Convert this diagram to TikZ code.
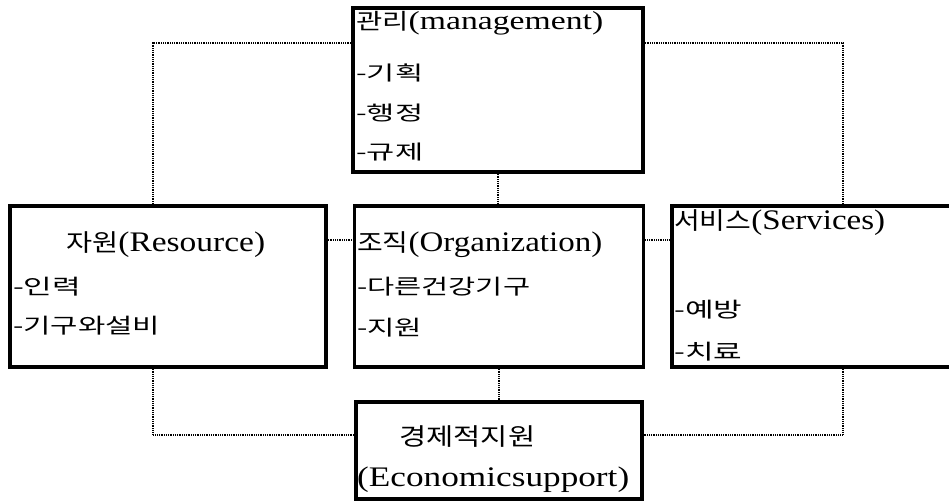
\documentclass[tikz,border=0pt]{standalone}
\usepackage{fontspec}
\setmainfont{Liberation Serif}[Scale=1.18]
\newfontfamily\kr{Noto Sans CJK KR}
\usepackage{graphicx}
\usetikzlibrary{calc}
\newcommand{\fitw}[3]{\resizebox{#1pt}{\height}{\fontsize{#2}{#2}\selectfont #3}}
\begin{document}
\begin{tikzpicture}[x=1pt,y=-1pt,
  box/.style={draw=black, line width=3.5pt, inner sep=0pt},
  conn/.style={draw=black, line width=1.8pt, dash pattern=on 1pt off 0.8pt},
  lbl/.style={anchor=west, inner sep=0pt, text=black}]
\useasboundingbox (0,0) rectangle (949,502);
\clip (0,0) rectangle (949,502);

% boxes
\node[box, minimum width=290pt, minimum height=164pt] (mgmt) at (498,90) {};
\node[box, minimum width=316pt, minimum height=161pt] (res) at (168,286.5) {};
\node[box, minimum width=289pt, minimum height=161pt] (org) at (499,286.5) {};
\node[box, minimum width=300pt, minimum height=161pt] (svc) at (822,286.5) {};
\node[box, minimum width=286pt, minimum height=97pt] (eco) at (499,450.5) {};

% connector corners
\coordinate (tl) at (153,43);
\coordinate (tr) at (843,43);
\coordinate (bl) at (153,435);
\coordinate (br) at (843,435);
\coordinate (ml) at (340,240);

\draw[conn] (mgmt.west |- tl) -- (tl) -- (res.north -| tl);
\draw[conn] (mgmt.east |- tr) -- (tr) -- (svc.north -| tr);
\draw[conn] (res.south -| bl) -- (bl) -- (eco.west |- bl);
\draw[conn] (svc.south -| br) -- (br) -- (eco.east |- br);
\draw[conn] (res.east |- ml) -- (org.west |- ml);
\draw[conn] (org.east |- ml) -- (svc.west |- ml);
\draw[conn] (mgmt.south) -- (mgmt.south |- org.north);
\draw[conn] (org.south -| eco.north) -- (eco.north);

% texts: management
\node[lbl] (t1) at (356,23) {\fitw{247}{22}{{\kr 관리}(management)}};
\node[lbl] (t1a) at (356,73) {\fitw{67}{20}{\kr -기획}};
\node[lbl] (t1b) at (356,113) {\fitw{67}{20}{\kr -행정}};
\node[lbl] (t1c) at (356,152) {\fitw{67}{20}{\kr -규제}};

% resource
\node[lbl] (t2) at (66,245) {\fitw{199}{24}{{\kr 자원}(Resource)}};
\node[lbl] (t2a) at (13,287) {\fitw{68}{21}{\kr -인력}};
\node[lbl] (t2b) at (13,326) {\fitw{147}{21}{\kr -기구와설비}};

% organization
\node[lbl] (t3) at (357,245) {\fitw{245}{24}{{\kr 조직}(Organization)}};
\node[lbl] (t3a) at (357,287) {\fitw{173}{21}{\kr -다른건강기구}};
\node[lbl] (t3b) at (357,328) {\fitw{65}{21}{\kr -지원}};

% services
\node[lbl] (t4) at (674,223) {\fitw{211}{24}{{\kr 서비스}(Services)}};
\node[lbl] (t4a) at (674,310) {\fitw{68}{21}{\kr -예방}};
\node[lbl] (t4b) at (674,352) {\fitw{68}{21}{\kr -치료}};

% economic support
\node[lbl] (t5) at (399,437) {\fitw{136}{24}{\kr 경제적지원}};
\node[lbl] (t5a) at (357,480) {\fitw{272}{24}{(Economicsupport)}};
\end{tikzpicture}
\end{document}
